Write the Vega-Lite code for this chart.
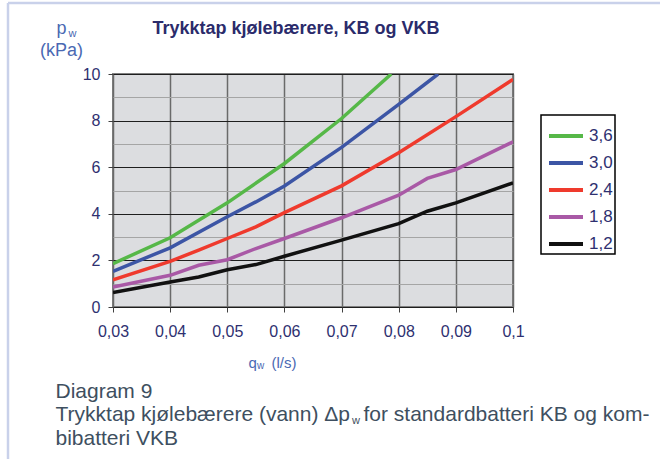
{
  "$schema": "https://vega.github.io/schema/vega-lite/v6.json",
  "width": 400,
  "height": 233,
  "autosize": {"type": "none"},
  "padding": {"left": 113, "top": 74, "right": 147, "bottom": 152},
  "background": "#ffffff",
  "config": {
    "font": "Liberation Sans",
    "view": {"fill": "#dcdde0", "stroke": "#808080", "strokeWidth": 2},
    "axis": {"labelFont": "Liberation Sans", "titleFont": "Liberation Sans", "titleFontWeight": "normal", "labelFlush": false},
    "legend": {"strokeWidth": 1.5}
  },
  "datasets": {
    "curves": [
      {"series": "3,6", "q": 0.03, "p": 1.86},
      {"series": "3,6", "q": 0.04, "p": 2.97},
      {"series": "3,6", "q": 0.05, "p": 4.47},
      {"series": "3,6", "q": 0.06, "p": 6.16},
      {"series": "3,6", "q": 0.07, "p": 8.09},
      {"series": "3,6", "q": 0.0787, "p": 10.0},
      {"series": "3,0", "q": 0.03, "p": 1.53},
      {"series": "3,0", "q": 0.04, "p": 2.54},
      {"series": "3,0", "q": 0.05, "p": 3.87},
      {"series": "3,0", "q": 0.055, "p": 4.51},
      {"series": "3,0", "q": 0.06, "p": 5.19},
      {"series": "3,0", "q": 0.07, "p": 6.85},
      {"series": "3,0", "q": 0.08, "p": 8.7},
      {"series": "3,0", "q": 0.0869, "p": 10.0},
      {"series": "2,4", "q": 0.03, "p": 1.17},
      {"series": "2,4", "q": 0.04, "p": 1.96},
      {"series": "2,4", "q": 0.045, "p": 2.44},
      {"series": "2,4", "q": 0.05, "p": 2.94},
      {"series": "2,4", "q": 0.055, "p": 3.44},
      {"series": "2,4", "q": 0.06, "p": 4.05},
      {"series": "2,4", "q": 0.07, "p": 5.2},
      {"series": "2,4", "q": 0.08, "p": 6.62},
      {"series": "2,4", "q": 0.09, "p": 8.17},
      {"series": "2,4", "q": 0.1, "p": 9.77},
      {"series": "1,8", "q": 0.03, "p": 0.86},
      {"series": "1,8", "q": 0.04, "p": 1.36},
      {"series": "1,8", "q": 0.045, "p": 1.79},
      {"series": "1,8", "q": 0.05, "p": 2.03},
      {"series": "1,8", "q": 0.055, "p": 2.51},
      {"series": "1,8", "q": 0.06, "p": 2.94},
      {"series": "1,8", "q": 0.07, "p": 3.83},
      {"series": "1,8", "q": 0.08, "p": 4.8},
      {"series": "1,8", "q": 0.085, "p": 5.52},
      {"series": "1,8", "q": 0.09, "p": 5.9},
      {"series": "1,8", "q": 0.1, "p": 7.09},
      {"series": "1,2", "q": 0.03, "p": 0.62},
      {"series": "1,2", "q": 0.04, "p": 1.07},
      {"series": "1,2", "q": 0.045, "p": 1.29},
      {"series": "1,2", "q": 0.05, "p": 1.6},
      {"series": "1,2", "q": 0.055, "p": 1.82},
      {"series": "1,2", "q": 0.06, "p": 2.18},
      {"series": "1,2", "q": 0.07, "p": 2.87},
      {"series": "1,2", "q": 0.08, "p": 3.58},
      {"series": "1,2", "q": 0.085, "p": 4.11},
      {"series": "1,2", "q": 0.09, "p": 4.47},
      {"series": "1,2", "q": 0.1, "p": 5.33}
    ]
  },
  "data": {"name": "curves"},
  "layer": [
    {
      "mark": {"type": "line", "strokeWidth": 3.5, "clip": true},
      "encoding": {
        "x": {
          "field": "q", "type": "quantitative",
          "scale": {"domain": [0.03, 0.1], "nice": false, "zero": false},
          "axis": {
            "orient": "bottom",
            "values": [0.03, 0.04, 0.05, 0.06, 0.07, 0.08, 0.09, 0.1],
            "labelExpr": "replace(format(datum.value, '.2~f'), '.', ',')",
            "grid": true, "gridColor": "#6a6a6a", "gridWidth": 1.5,
            "domain": false,
            "ticks": true, "tickSize": 5, "tickColor": "#404040", "tickWidth": 1,
            "labelFontSize": 16, "labelColor": "#2e3070", "labelPadding": 11,
            "title": "q",
            "titleX": 135, "titleY": 60, "titleAlign": "left", "titleBaseline": "alphabetic",
            "titleFontSize": 15, "titleColor": "#4a69b3"
          }
        },
        "y": {
          "field": "p", "type": "quantitative",
          "scale": {"domain": [0, 10], "nice": false},
          "axis": {
            "orient": "left",
            "values": [0, 2, 4, 6, 8, 10],
            "grid": true, "gridColor": "#1e1e1e", "gridWidth": 1,
            "domain": false,
            "tickSize": 5, "tickColor": "#404040", "tickWidth": 1,
            "labelFontSize": 16, "labelColor": "#2e3070", "labelPadding": 8,
            "title": ["p", "(kPa)"],
            "titleX": -52, "titleY": -41, "titleAngle": 0, "titleAlign": "center",
            "titleBaseline": "alphabetic", "titleLineHeight": 22,
            "titleFontSize": 18, "titleColor": "#4a69b3"
          }
        },
        "color": {
          "field": "series", "type": "nominal",
          "sort": ["3,6", "3,0", "2,4", "1,8", "1,2"],
          "scale": {"domain": ["3,6", "3,0", "2,4", "1,8", "1,2"], "range": ["#56b848", "#3c55a5", "#ef3a2d", "#a959a6", "#111111"]},
          "legend": {
            "title": null,
            "orient": "none",
            "legendX": 428,
            "legendY": 41,
            "strokeColor": "#000000",
            "padding": 2,
            "symbolOffset": 4,
            "symbolType": "stroke",
            "symbolSize": 1156,
            "symbolStrokeWidth": 4,
            "labelFont": "Liberation Sans",
            "labelFontSize": 17,
            "labelColor": "#2e3070",
            "labelOffset": 4,
            "rowPadding": -2
          }
        }
      }
    },
    {
      "mark": {"type": "point", "opacity": 0},
      "encoding": {
        "x": {
          "field": "q", "type": "quantitative",
          "axis": {
            "orient": "bottom", "labels": false, "ticks": false, "domain": false, "grid": false,
            "title": "w", "titleX": 143.5, "titleY": 61, "titleAlign": "left", "titleBaseline": "alphabetic",
            "titleFontSize": 10, "titleColor": "#4a69b3"
          }
        },
        "y": {
          "field": "p", "type": "quantitative",
          "axis": {
            "orient": "left", "values": [1, 3, 5, 7, 9],
            "grid": true, "gridColor": "#a5a5a5", "gridWidth": 1,
            "labels": false, "ticks": false, "domain": false,
            "title": "w", "titleX": -45, "titleY": -38, "titleAngle": 0, "titleAlign": "left",
            "titleBaseline": "alphabetic", "titleFontSize": 11, "titleColor": "#4a69b3"
          }
        }
      }
    },
    {
      "mark": {"type": "point", "opacity": 0},
      "encoding": {
        "x": {
          "field": "q", "type": "quantitative",
          "axis": {
            "orient": "bottom", "labels": false, "ticks": false, "domain": false, "grid": false,
            "title": ["Diagram 9", "Trykktap kjølebærere (vann) Δp", "bibatteri VKB"],
            "titleX": -58, "titleY": 90, "titleAlign": "left", "titleBaseline": "alphabetic",
            "titleLineHeight": 23.5, "titleFontSize": 21, "titleColor": "#3e4f60"
          }
        },
        "y": {
          "field": "p", "type": "quantitative",
          "axis": {
            "orient": "left", "labels": false, "ticks": false, "domain": false, "grid": false,
            "title": "Trykktap kjølebærere, KB og VKB",
            "titleX": 39, "titleY": -41, "titleAngle": 0, "titleAlign": "left",
            "titleBaseline": "alphabetic", "titleFontSize": 18, "titleFontWeight": "bold", "titleColor": "#2b2b6b"
          }
        }
      }
    },
    {
      "mark": {"type": "point", "opacity": 0},
      "encoding": {
        "x": {
          "field": "q", "type": "quantitative",
          "axis": {
            "orient": "bottom", "labels": false, "ticks": false, "domain": false, "grid": false,
            "title": "(l/s)", "titleX": 158, "titleY": 60, "titleAlign": "left", "titleBaseline": "alphabetic",
            "titleFontSize": 15, "titleColor": "#4a69b3"
          }
        },
        "y": {
          "field": "p", "type": "quantitative",
          "axis": {
            "orient": "left", "labels": false, "ticks": false, "domain": false, "grid": false,
            "title": "w", "titleX": 238.5, "titleY": 349, "titleAngle": 0, "titleAlign": "left",
            "titleBaseline": "alphabetic", "titleFontSize": 11, "titleColor": "#3e4f60"
          }
        }
      }
    },
    {
      "mark": {"type": "point", "opacity": 0},
      "encoding": {
        "x": {
          "field": "q", "type": "quantitative",
          "axis": {
            "orient": "bottom", "labels": false, "ticks": false, "domain": false, "grid": false,
            "title": "for standardbatteri KB og kom-", "titleX": 250, "titleY": 113.5, "titleAlign": "left", "titleBaseline": "alphabetic",
            "titleFontSize": 21, "titleColor": "#3e4f60"
          }
        },
        "y": {
          "field": "p", "type": "quantitative",
          "axis": {
            "orient": "left", "offset": 34, "values": [10], "translate": -71,
            "labels": false, "domain": false, "grid": false,
            "ticks": true, "tickSize": -655, "tickColor": "#c9d1ea", "tickWidth": 2.5,
            "title": null
          }
        }
      }
    },
    {
      "mark": {"type": "point", "opacity": 0},
      "encoding": {
        "x": {
          "field": "q", "type": "quantitative",
          "axis": {
            "orient": "top", "offset": -34, "values": [0.03], "translate": -105,
            "labels": false, "domain": false, "grid": false,
            "ticks": true, "tickSize": -460, "tickColor": "#c9d1ea", "tickWidth": 2.5,
            "title": null
          }
        },
        "y": {"field": "p", "type": "quantitative", "axis": null}
      }
    }
  ],
  "resolve": {"axis": {"x": "independent", "y": "independent"}}
}
